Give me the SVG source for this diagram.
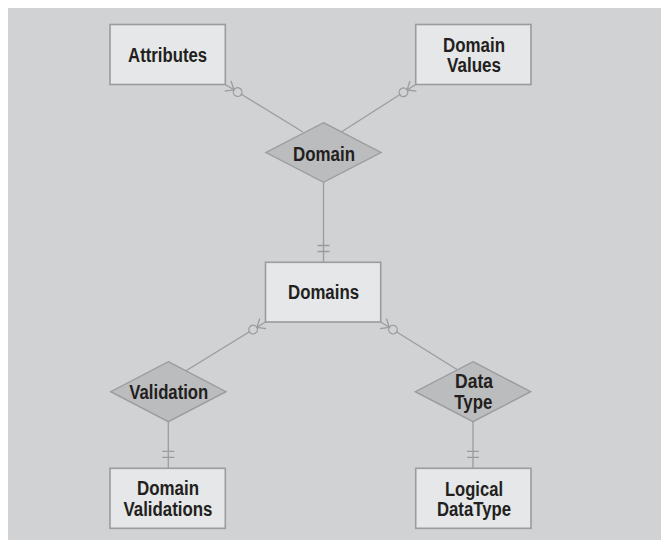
<svg xmlns="http://www.w3.org/2000/svg" width="661" height="540" viewBox="0 0 661 540">
  <defs>
    <style>
      .entity { fill: #e6e7e8; stroke: #9b9c9e; stroke-width: 1.6; }
      .rel { fill: #bbbcbe; stroke: #9b9c9e; stroke-width: 1.4; }
      .link { fill: none; stroke: #9b9c9e; stroke-width: 1.3; }
      .label { font-family: "Liberation Sans Narrow", "Liberation Sans", Arial, sans-serif; font-weight: bold; font-size: 20px; fill: #231f20; text-anchor: middle; }
    </style>
    <!-- zero-or-many: crow's foot at the entity, ring just beyond it -->
    <marker id="zeroMany" markerUnits="userSpaceOnUse" viewBox="-2 -8 24 16" refX="0" refY="0" markerWidth="24" markerHeight="16" orient="auto" overflow="visible">
      <path d="M3,-6 L10.2,0 M3,6 L10.2,0" fill="none" stroke="#9b9c9e" stroke-width="1.3"/>
      <circle cx="14.5" cy="0" r="4.3" fill="#d1d2d4" stroke="#9b9c9e" stroke-width="1.3"/>
    </marker>
    <!-- exactly one: two bars across the line -->
    <marker id="one" markerUnits="userSpaceOnUse" viewBox="-2 -8 24 16" refX="0" refY="0" markerWidth="24" markerHeight="16" orient="auto" overflow="visible">
      <path d="M11,-6 L11,6 M17,-6 L17,6" fill="none" stroke="#9b9c9e" stroke-width="1.3"/>
    </marker>
  </defs>

  <rect x="0" y="0" width="661" height="540" fill="#ffffff"/>
  <rect x="8" y="8" width="653" height="532" fill="#d1d2d4"/>

  <g id="connectors">
    <path class="link" d="M225.3,84.5 L303,132" marker-start="url(#zeroMany)"/>
    <path class="link" d="M415.7,84.5 L341.7,131.7" marker-start="url(#zeroMany)"/>
    <path class="link" d="M323.5,262.5 L323.5,182.3" marker-start="url(#one)"/>
    <path class="link" d="M265.5,322 L186,370.8" marker-start="url(#zeroMany)"/>
    <path class="link" d="M380.7,322 L457,369.5" marker-start="url(#zeroMany)"/>
    <path class="link" d="M168.3,468.3 L168.3,421.7" marker-start="url(#one)"/>
    <path class="link" d="M473,468.3 L473,421.7" marker-start="url(#one)"/>
  </g>

  <g id="attributes">
    <rect class="entity" x="110" y="24.5" width="115.3" height="60"/>
    <text class="label" x="167.6" y="61.5" textLength="79" lengthAdjust="spacingAndGlyphs">Attributes</text>
  </g>

  <g id="domain-values">
    <rect class="entity" x="415.7" y="24.5" width="115.3" height="60"/>
    <text class="label" x="474" y="51.5" textLength="62" lengthAdjust="spacingAndGlyphs">Domain</text>
    <text class="label" x="474" y="71.5" textLength="54" lengthAdjust="spacingAndGlyphs">Values</text>
  </g>

  <g id="domain">
    <polygon class="rel" points="323.5,122.7 381,152.5 323.5,182.3 266,152.5"/>
    <text class="label" x="324" y="160.5" textLength="62" lengthAdjust="spacingAndGlyphs">Domain</text>
  </g>

  <g id="domains">
    <rect class="entity" x="265.5" y="262.3" width="115.2" height="59.7"/>
    <text class="label" x="323.5" y="299" textLength="71" lengthAdjust="spacingAndGlyphs">Domains</text>
  </g>

  <g id="validation">
    <polygon class="rel" points="168.3,361.7 226,391.7 168.3,421.7 110.7,391.7"/>
    <text class="label" x="168.8" y="399" textLength="79" lengthAdjust="spacingAndGlyphs">Validation</text>
  </g>

  <g id="data-type">
    <polygon class="rel" points="473,361.7 530.7,391.7 473,421.7 415.3,391.7"/>
    <text class="label" x="474" y="387.5" textLength="38" lengthAdjust="spacingAndGlyphs">Data</text>
    <text class="label" x="473.3" y="408.5" textLength="38" lengthAdjust="spacingAndGlyphs">Type</text>
  </g>

  <g id="domain-validations">
    <rect class="entity" x="110" y="468.3" width="115.3" height="60"/>
    <text class="label" x="168" y="495" textLength="62" lengthAdjust="spacingAndGlyphs">Domain</text>
    <text class="label" x="168" y="515.5" textLength="89" lengthAdjust="spacingAndGlyphs">Validations</text>
  </g>

  <g id="logical-datatype">
    <rect class="entity" x="415.7" y="468.3" width="115.3" height="60"/>
    <text class="label" x="474" y="495.5" textLength="58" lengthAdjust="spacingAndGlyphs">Logical</text>
    <text class="label" x="474" y="515.5" textLength="74" lengthAdjust="spacingAndGlyphs">DataType</text>
  </g>
</svg>
